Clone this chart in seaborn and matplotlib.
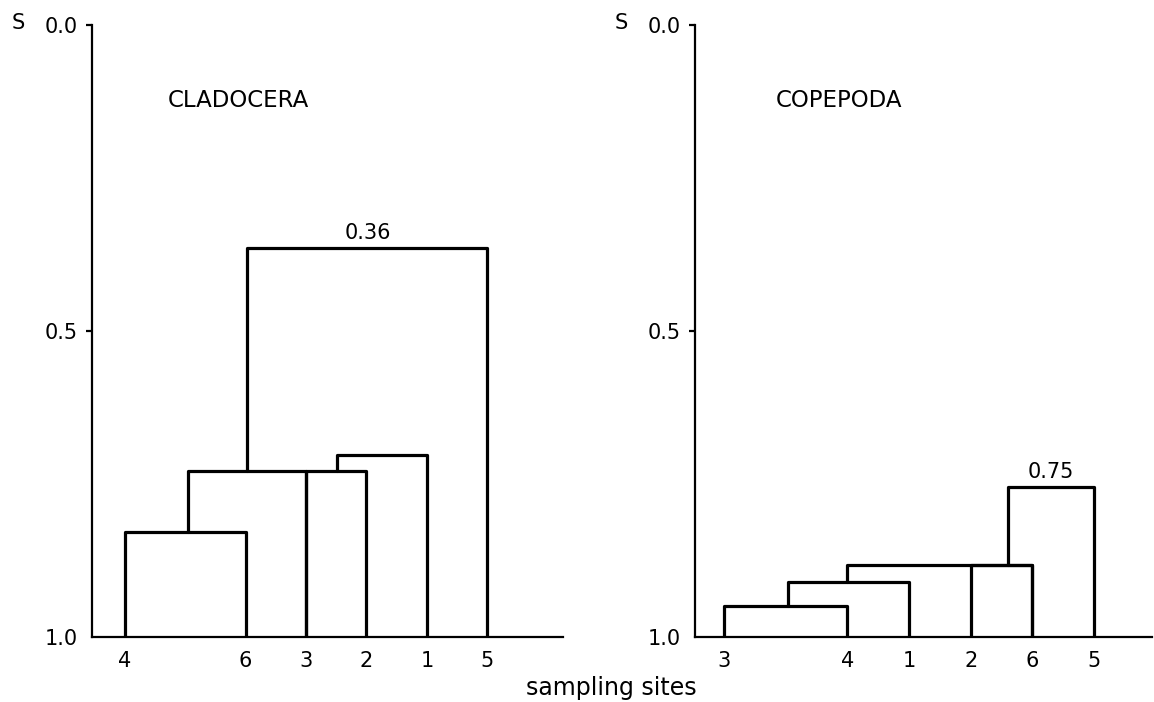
import matplotlib
matplotlib.use("Agg")
import matplotlib.pyplot as plt
import seaborn as sns
import pandas as pd

sns.set_theme(style="white")
plt.rcParams['font.family'] = ['DejaVu Sans']

# ---- data ----
leaf_pos = [0, 2, 3, 4, 5, 6]
clad_leaves = ["4", "6", "3", "2", "1", "5"]
cope_leaves = ["3", "4", "1", "2", "6", "5"]

# brackets: left x, right x, level, left-leg bottom level, right-leg bottom level
clad_xl = [0.0, 1.05, 3.0, 3.52, 2.03]
clad_xr = [2.0, 3.0, 4.0, 5.0, 6.0]
clad_lvl = [0.828, 0.728, 0.728, 0.703, 0.364]
clad_bl = [1.0, 0.828, 1.0, 0.728, 0.728]
clad_br = [1.0, 1.0, 1.0, 1.0, 1.0]

cope_xl = [0.0, 1.04, 2.0, 4.0, 4.6]
cope_xr = [2.0, 3.0, 5.0, 5.0, 6.0]
cope_lvl = [0.95, 0.91, 0.882, 0.882, 0.755]
cope_bl = [1.0, 0.95, 0.91, 1.0, 0.882]
cope_br = [1.0, 1.0, 1.0, 1.0, 1.0]

clad_note = "0.36"
cope_note = "0.75"
yticks = [0.0, 0.5, 1.0]
ytick_labels = ["0.0", "0.5", "1.0"]

W, H = 1154, 702
fig = plt.figure(figsize=(W / 100, H / 100), dpi=100)

def px_axes(x0, x1, y0, y1):
    return fig.add_axes([x0 / W, 1 - y1 / H, (x1 - x0) / W, (y1 - y0) / H])

ax1 = px_axes(92, 563, 25, 637)
ax2 = px_axes(695, 1152, 25, 637)

FS = 15

def draw(ax, xl, xr, lvl, bl, br, leaves, xlim, title, title_x, note, note_idx):
    rows = []
    for i in range(len(xl)):
        pts = [(xl[i], bl[i]), (xl[i], lvl[i]), (xr[i], lvl[i]), (xr[i], br[i])]
        for k, (x, y) in enumerate(pts):
            rows.append({"seg": i, "order": k, "x": x, "y": y})
    df = pd.DataFrame(rows)
    sns.lineplot(data=df, x="x", y="y", units="seg", estimator=None, sort=False,
                 color="black", linewidth=2.3, ax=ax, legend=False)
    ax.set_xlim(*xlim)
    ax.set_ylim(1.0, 0.0)
    for s in ["top", "right"]:
        ax.spines[s].set_visible(False)
    for s in ["left", "bottom"]:
        ax.spines[s].set_color("black")
        ax.spines[s].set_linewidth(1.6)
    ax.set_xticks(leaf_pos)
    ax.set_xticklabels(leaves, fontsize=FS)
    ax.set_yticks(yticks)
    ax.set_yticklabels(ytick_labels, fontsize=FS)
    ax.tick_params(axis="x", length=0, pad=10, colors="black")
    ax.tick_params(axis="y", length=4, width=1.6, pad=6, colors="black", direction="out", left=True)
    ax.yaxis.get_major_ticks()[2].tick1line.set_visible(False)
    ax.set_xlabel("")
    ax.set_ylabel("")
    ax.text(title_x, 0.124, title, fontsize=16.5, va="center", ha="left", color="black")
    mid = (xl[note_idx] + xr[note_idx]) / 2
    ax.text(mid, lvl[note_idx] - 0.008, note, fontsize=FS, va="bottom", ha="center", color="black")
    ax.grid(False)

draw(ax1, clad_xl, clad_xr, clad_lvl, clad_bl, clad_br, clad_leaves,
     (-0.54, 7.25), "CLADOCERA", 0.72, clad_note, 4)
draw(ax2, cope_xl, cope_xr, cope_lvl, cope_bl, cope_br, cope_leaves,
     (-0.47, 6.94), "COPEPODA", 0.84, cope_note, 4)

fig.text(18 / W, 1 - 23 / H, "S", fontsize=FS, ha="center", va="center", color="black")
fig.text(621 / W, 1 - 23 / H, "S", fontsize=FS, ha="center", va="center", color="black")
fig.text(611 / W, 1 - 688 / H, "sampling sites", fontsize=17, ha="center", va="center", color="black")

fig.savefig("out.png", dpi=100, facecolor="white")
